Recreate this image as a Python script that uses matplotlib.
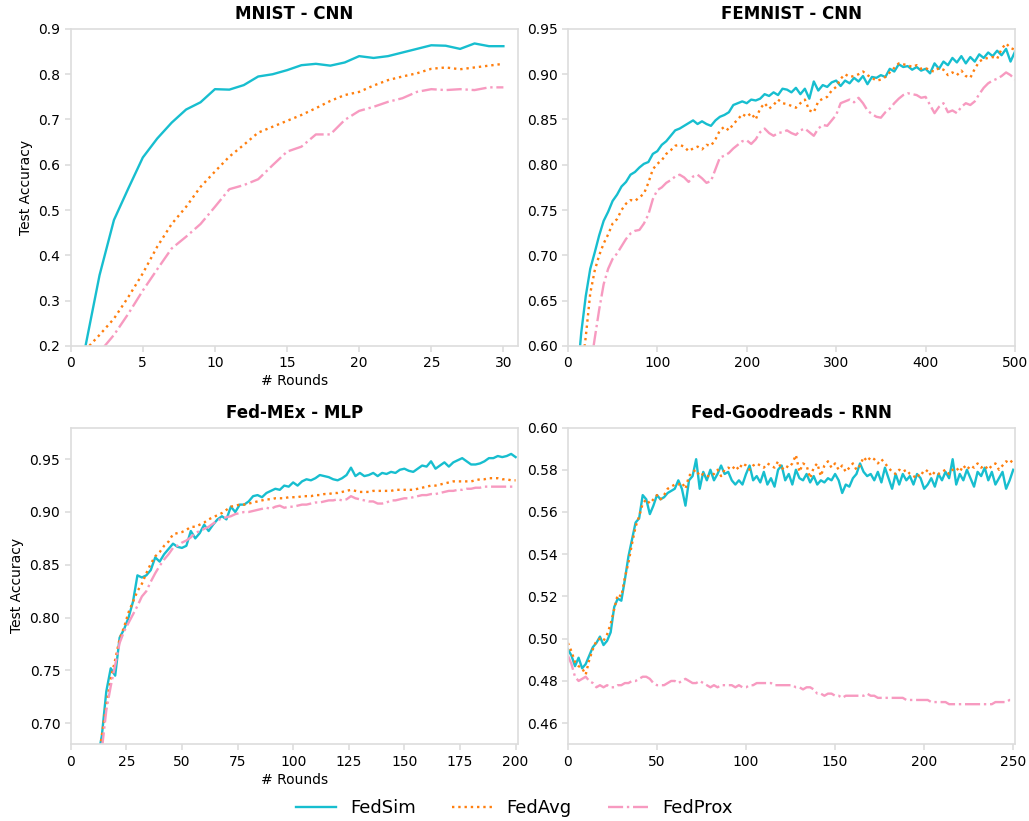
"""Test accuracy vs. communication rounds for FedSim, FedAvg and FedProx."""
import matplotlib
matplotlib.use("Agg")
import matplotlib.pyplot as plt
import numpy as np

METHODS = ["FedSim", "FedAvg", "FedProx"]
COLORS = ["#17becf", "#ff7f0e", "#f79ac0"]
STYLES = ["-", ":", "-."]

# ---- MNIST - CNN (rounds 1..30)
mnist_rounds = np.arange(1, 31)
mnist_fedsim = [0.195, 0.356, 0.478, 0.548, 0.616, 0.658, 0.693, 0.722, 0.738, 0.767,
                0.766, 0.776, 0.795, 0.800, 0.809, 0.820, 0.823, 0.819, 0.826, 0.840,
                0.836, 0.840, 0.848, 0.856, 0.864, 0.863, 0.856, 0.868, 0.862, 0.862]
mnist_fedavg = [0.190, 0.224, 0.260, 0.308, 0.360, 0.419, 0.469, 0.507, 0.551, 0.585,
                0.618, 0.644, 0.671, 0.684, 0.697, 0.710, 0.725, 0.741, 0.754, 0.761,
                0.775, 0.787, 0.795, 0.802, 0.812, 0.815, 0.811, 0.815, 0.819, 0.823]
mnist_fedprox = [0.160, 0.186, 0.224, 0.271, 0.322, 0.369, 0.415, 0.441, 0.469, 0.507,
                 0.546, 0.555, 0.568, 0.599, 0.629, 0.640, 0.667, 0.667, 0.699, 0.719,
                 0.728, 0.739, 0.747, 0.761, 0.767, 0.765, 0.767, 0.765, 0.771, 0.771]

# ---- FEMNIST - CNN (every 5 rounds, 5..500)
femnist_rounds = np.arange(5, 501, 5)
femnist_fedsim = [
    0.450, 0.560, 0.615, 0.655, 0.685, 0.703, 0.722, 0.738, 0.748, 0.760,
    0.767, 0.776, 0.781, 0.789, 0.792, 0.797, 0.801, 0.803, 0.812, 0.815,
    0.822, 0.826, 0.832, 0.838, 0.840, 0.843, 0.846, 0.849, 0.845, 0.848,
    0.845, 0.843, 0.849, 0.853, 0.855, 0.858, 0.866, 0.868, 0.870, 0.868,
    0.872, 0.871, 0.873, 0.878, 0.876, 0.880, 0.877, 0.884, 0.883, 0.880,
    0.885, 0.878, 0.884, 0.873, 0.892, 0.882, 0.888, 0.886, 0.891, 0.893,
    0.887, 0.893, 0.890, 0.896, 0.892, 0.898, 0.889, 0.897, 0.896, 0.899,
    0.897, 0.906, 0.903, 0.911, 0.908, 0.909, 0.905, 0.908, 0.904, 0.906,
    0.901, 0.912, 0.906, 0.914, 0.910, 0.918, 0.913, 0.920, 0.912, 0.919,
    0.914, 0.922, 0.918, 0.924, 0.920, 0.926, 0.921, 0.928, 0.914, 0.925]
femnist_fedavg = [
    0.420, 0.500, 0.570, 0.610, 0.658, 0.683, 0.700, 0.713, 0.723, 0.735,
    0.740, 0.750, 0.757, 0.761, 0.760, 0.764, 0.768, 0.780, 0.795, 0.801,
    0.805, 0.812, 0.816, 0.821, 0.822, 0.820, 0.815, 0.818, 0.820, 0.817,
    0.822, 0.821, 0.828, 0.838, 0.842, 0.838, 0.845, 0.850, 0.856, 0.853,
    0.857, 0.850, 0.862, 0.868, 0.862, 0.866, 0.872, 0.868, 0.867, 0.865,
    0.863, 0.868, 0.872, 0.860, 0.858, 0.870, 0.873, 0.875, 0.882, 0.886,
    0.895, 0.900, 0.897, 0.898, 0.900, 0.903, 0.899, 0.896, 0.893, 0.894,
    0.897, 0.902, 0.907, 0.912, 0.911, 0.910, 0.908, 0.910, 0.906, 0.907,
    0.904, 0.903, 0.907, 0.905, 0.899, 0.902, 0.899, 0.904, 0.898, 0.896,
    0.906, 0.914, 0.917, 0.918, 0.919, 0.917, 0.928, 0.934, 0.929, 0.927]
femnist_fedprox = [
    0.380, 0.440, 0.500, 0.540, 0.575, 0.608, 0.640, 0.668, 0.685, 0.696,
    0.702, 0.710, 0.718, 0.724, 0.727, 0.728, 0.735, 0.745, 0.762, 0.772,
    0.775, 0.780, 0.783, 0.787, 0.789, 0.786, 0.781, 0.787, 0.789, 0.785,
    0.780, 0.782, 0.795, 0.808, 0.810, 0.813, 0.818, 0.822, 0.826, 0.827,
    0.823, 0.828, 0.836, 0.840, 0.835, 0.832, 0.835, 0.836, 0.838, 0.835,
    0.833, 0.838, 0.840, 0.836, 0.832, 0.840, 0.844, 0.843, 0.849, 0.855,
    0.868, 0.870, 0.872, 0.869, 0.874, 0.868, 0.860, 0.856, 0.853, 0.852,
    0.858, 0.862, 0.868, 0.873, 0.877, 0.879, 0.878, 0.877, 0.874, 0.875,
    0.866, 0.857, 0.864, 0.868, 0.858, 0.860, 0.857, 0.864, 0.868, 0.866,
    0.870, 0.878, 0.885, 0.890, 0.893, 0.895, 0.898, 0.902, 0.899, 0.894]

# ---- Fed-MEx - MLP (every 2 rounds, 2..200)
mex_rounds = np.arange(2, 201, 2)
mex_fedsim = [
    0.400, 0.460, 0.520, 0.570, 0.620, 0.665, 0.688, 0.730, 0.752, 0.745,
    0.781, 0.789, 0.800, 0.815, 0.840, 0.838, 0.840, 0.845, 0.857, 0.853,
    0.860, 0.865, 0.870, 0.867, 0.866, 0.868, 0.882, 0.875, 0.880, 0.888,
    0.882, 0.888, 0.893, 0.896, 0.893, 0.905, 0.900, 0.907, 0.907, 0.910,
    0.915, 0.916, 0.914, 0.918, 0.920, 0.922, 0.921, 0.925, 0.924, 0.928,
    0.925, 0.929, 0.931, 0.930, 0.932, 0.935, 0.934, 0.933, 0.931, 0.930,
    0.932, 0.935, 0.942, 0.934, 0.937, 0.934, 0.935, 0.937, 0.934, 0.937,
    0.936, 0.938, 0.937, 0.940, 0.941, 0.939, 0.938, 0.941, 0.944, 0.943,
    0.948, 0.941, 0.944, 0.947, 0.943, 0.947, 0.949, 0.951, 0.948, 0.945,
    0.945, 0.946, 0.948, 0.951, 0.951, 0.953, 0.952, 0.953, 0.955, 0.952]
mex_fedavg = [
    0.420, 0.480, 0.540, 0.580, 0.620, 0.660, 0.688, 0.717, 0.742, 0.760,
    0.780, 0.791, 0.805, 0.815, 0.825, 0.832, 0.842, 0.851, 0.858, 0.862,
    0.868, 0.872, 0.879, 0.880, 0.881, 0.883, 0.886, 0.886, 0.888, 0.890,
    0.893, 0.895, 0.897, 0.899, 0.902, 0.905, 0.906, 0.907, 0.907, 0.908,
    0.909, 0.910, 0.911, 0.912, 0.912, 0.913, 0.913, 0.913, 0.914, 0.914,
    0.914, 0.915, 0.915, 0.915, 0.916, 0.916, 0.917, 0.917, 0.918, 0.918,
    0.919, 0.920, 0.921, 0.920, 0.919, 0.919, 0.919, 0.920, 0.920, 0.920,
    0.920, 0.920, 0.921, 0.921, 0.921, 0.921, 0.921, 0.922, 0.923, 0.924,
    0.925, 0.925, 0.926, 0.927, 0.928, 0.929, 0.929, 0.929, 0.929, 0.929,
    0.930, 0.931, 0.931, 0.932, 0.932, 0.932, 0.931, 0.931, 0.930, 0.930]
mex_fedprox = [
    0.400, 0.460, 0.520, 0.560, 0.600, 0.640, 0.675, 0.712, 0.735, 0.755,
    0.776, 0.787, 0.795, 0.803, 0.811, 0.820, 0.825, 0.834, 0.842, 0.849,
    0.855, 0.860, 0.866, 0.868, 0.871, 0.873, 0.876, 0.880, 0.882, 0.884,
    0.886, 0.889, 0.892, 0.894, 0.895, 0.896, 0.898, 0.899, 0.900, 0.900,
    0.901, 0.902, 0.903, 0.904, 0.903, 0.905, 0.906, 0.904, 0.905, 0.905,
    0.906, 0.907, 0.907, 0.908, 0.909, 0.909, 0.910, 0.911, 0.911, 0.912,
    0.911, 0.912, 0.915, 0.913, 0.912, 0.911, 0.910, 0.910, 0.908, 0.908,
    0.909, 0.911, 0.911, 0.912, 0.913, 0.913, 0.914, 0.915, 0.916, 0.916,
    0.917, 0.917, 0.918, 0.919, 0.920, 0.920, 0.921, 0.921, 0.922, 0.922,
    0.923, 0.923, 0.924, 0.924, 0.924, 0.924, 0.924, 0.924, 0.924, 0.924]

# ---- Fed-Goodreads - RNN (every 2 rounds, 0..250)
gr_rounds = np.arange(0, 251, 2)
gr_fedsim = [
    0.495, 0.492, 0.487, 0.491, 0.486, 0.488, 0.492, 0.496, 0.498, 0.501,
    0.497, 0.499, 0.503, 0.515, 0.519, 0.518, 0.528, 0.539, 0.547, 0.555,
    0.557, 0.568, 0.566, 0.559, 0.563, 0.568, 0.566, 0.567, 0.569, 0.570,
    0.571, 0.575, 0.571, 0.563, 0.575, 0.577, 0.585, 0.571, 0.579, 0.575,
    0.580, 0.575, 0.578, 0.582, 0.578, 0.579, 0.575, 0.573, 0.575, 0.573,
    0.578, 0.582, 0.575, 0.577, 0.574, 0.579, 0.573, 0.576, 0.572, 0.580,
    0.582, 0.575, 0.578, 0.573, 0.580, 0.576, 0.575, 0.578, 0.574, 0.577,
    0.573, 0.575, 0.574, 0.576, 0.575, 0.578, 0.575, 0.569, 0.573, 0.572,
    0.576, 0.578, 0.583, 0.579, 0.577, 0.578, 0.575, 0.579, 0.574, 0.581,
    0.576, 0.571, 0.578, 0.573, 0.578, 0.575, 0.577, 0.573, 0.578, 0.576,
    0.571, 0.573, 0.576, 0.572, 0.578, 0.575, 0.579, 0.576, 0.585, 0.573,
    0.578, 0.575, 0.580, 0.576, 0.572, 0.579, 0.577, 0.581, 0.575, 0.579,
    0.573, 0.576, 0.579, 0.571, 0.575, 0.580]
gr_fedavg = [
    0.498, 0.494, 0.489, 0.487, 0.486, 0.483, 0.490, 0.495, 0.499, 0.500,
    0.499, 0.502, 0.507, 0.514, 0.521, 0.520, 0.529, 0.536, 0.545, 0.553,
    0.558, 0.564, 0.566, 0.564, 0.566, 0.568, 0.566, 0.568, 0.571, 0.572,
    0.573, 0.573, 0.574, 0.571, 0.577, 0.579, 0.580, 0.577, 0.578, 0.577,
    0.577, 0.578, 0.580, 0.577, 0.580, 0.581, 0.580, 0.582, 0.580, 0.583,
    0.582, 0.580, 0.582, 0.583, 0.582, 0.581, 0.583, 0.582, 0.581, 0.584,
    0.580, 0.582, 0.581, 0.583, 0.587, 0.579, 0.583, 0.582, 0.576, 0.581,
    0.583, 0.577, 0.582, 0.584, 0.581, 0.583, 0.580, 0.582, 0.579, 0.581,
    0.583, 0.580, 0.582, 0.586, 0.584, 0.586, 0.585, 0.583, 0.585, 0.583,
    0.581, 0.579, 0.578, 0.580, 0.579, 0.580, 0.578, 0.577, 0.576, 0.579,
    0.578, 0.580, 0.577, 0.579, 0.578, 0.579, 0.580, 0.578, 0.580, 0.581,
    0.579, 0.582, 0.580, 0.582, 0.581, 0.583, 0.581, 0.582, 0.580, 0.582,
    0.583, 0.580, 0.582, 0.584, 0.583, 0.585]
gr_fedprox = [
    0.492, 0.488, 0.482, 0.480, 0.481, 0.482, 0.480, 0.479, 0.477, 0.478,
    0.477, 0.478, 0.477, 0.477, 0.478, 0.478, 0.479, 0.479, 0.480, 0.480,
    0.481, 0.482, 0.482, 0.481, 0.479, 0.478, 0.478, 0.478, 0.479, 0.480,
    0.480, 0.479, 0.480, 0.481, 0.480, 0.479, 0.479, 0.480, 0.479, 0.478,
    0.477, 0.478, 0.477, 0.478, 0.478, 0.478, 0.478, 0.477, 0.478, 0.477,
    0.477, 0.478, 0.478, 0.479, 0.479, 0.479, 0.479, 0.479, 0.478, 0.478,
    0.478, 0.478, 0.478, 0.478, 0.477, 0.477, 0.476, 0.477, 0.477, 0.476,
    0.474, 0.474, 0.473, 0.474, 0.474, 0.473, 0.473, 0.472, 0.473, 0.473,
    0.473, 0.473, 0.473, 0.473, 0.474, 0.473, 0.473, 0.472, 0.472, 0.472,
    0.472, 0.472, 0.472, 0.472, 0.472, 0.471, 0.471, 0.471, 0.471, 0.471,
    0.471, 0.471, 0.470, 0.470, 0.470, 0.470, 0.470, 0.469, 0.469, 0.469,
    0.469, 0.469, 0.469, 0.469, 0.469, 0.469, 0.469, 0.469, 0.469, 0.469,
    0.470, 0.470, 0.470, 0.470, 0.471, 0.471]

PANELS = [
    ("MNIST - CNN", mnist_rounds, [mnist_fedsim, mnist_fedavg, mnist_fedprox],
     (0, 31), (0.2, 0.9), np.arange(0, 31, 5), np.arange(0.2, 0.91, 0.1), "{:.1f}"),
    ("FEMNIST - CNN", femnist_rounds, [femnist_fedsim, femnist_fedavg, femnist_fedprox],
     (0, 500), (0.6, 0.95), np.arange(0, 501, 100), np.arange(0.6, 0.951, 0.05), "{:.2f}"),
    ("Fed-MEx - MLP", mex_rounds, [mex_fedsim, mex_fedavg, mex_fedprox],
     (0, 201), (0.68, 0.98), np.arange(0, 201, 25), np.arange(0.7, 0.951, 0.05), "{:.2f}"),
    ("Fed-Goodreads - RNN", gr_rounds, [gr_fedsim, gr_fedavg, gr_fedprox],
     (0, 251), (0.45, 0.60), np.arange(0, 251, 50), np.arange(0.46, 0.601, 0.02), "{:.2f}"),
]

SPINE = "#dddddd"

fig, axes = plt.subplots(2, 2, figsize=(10.29, 8.21), dpi=100)
fig.subplots_adjust(left=0.0687, right=0.9864, top=0.9647, bottom=0.0934,
                    hspace=0.258, wspace=0.112)

for i, (ax, panel) in enumerate(zip(axes.flat, PANELS)):
    title, rounds, series, xlim, ylim, xt, yt, fmt = panel
    for vals, name, col, ls in zip(series, METHODS, COLORS, STYLES):
        ax.plot(rounds, vals, color=col, linestyle=ls, linewidth=1.7, label=name)
    ax.set_xlim(*xlim)
    ax.set_ylim(*ylim)
    ax.set_xticks(xt)
    ax.set_yticks(yt)
    ax.set_yticklabels([fmt.format(v) for v in yt])
    ax.set_title(title, fontsize=12, fontweight="bold", pad=7)
    for sp in ax.spines.values():
        sp.set_color(SPINE)
        sp.set_linewidth(1.2)
    ax.tick_params(axis="both", labelsize=10, color=SPINE, length=4, width=1.2)
    if i % 2 == 0:
        ax.set_ylabel("Test Accuracy", fontsize=10)
        ax.set_xlabel("# Rounds", fontsize=10, labelpad=3)

handles, labels = axes[0, 0].get_legend_handles_labels()
fig.legend(handles, labels, loc="lower center", ncol=3, frameon=False,
           fontsize=13, bbox_to_anchor=(0.5, -0.015), handlelength=2.2,
           columnspacing=2.0)

fig.savefig("out.png", dpi=100)
